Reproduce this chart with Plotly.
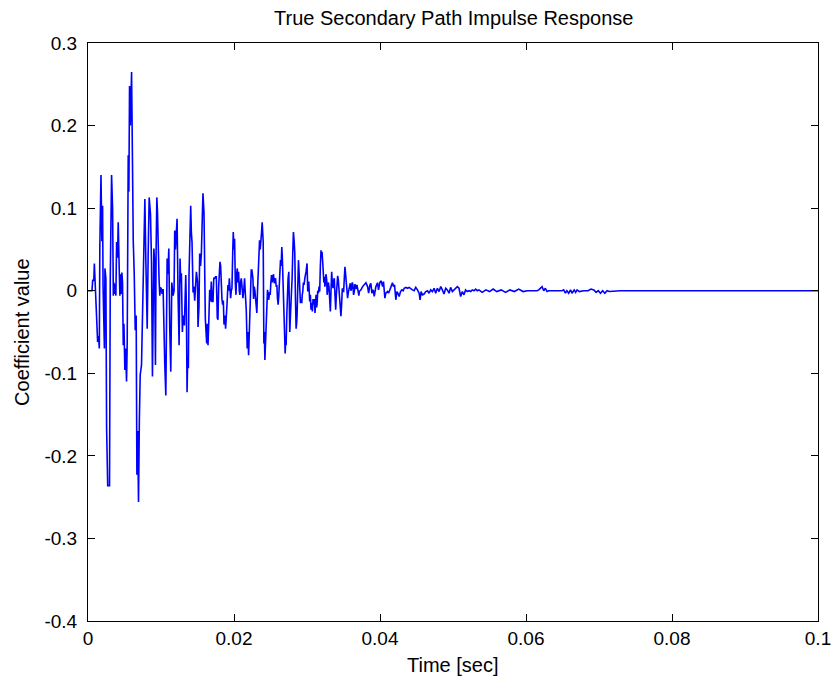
import plotly.graph_objects as go

# Impulse response of the secondary path: breakpoints of the trace
# (time in milliseconds, coefficient value).
time_ms = [
    0.00, 0.55, 0.64, 0.80, 0.87, 0.98, 1.09, 1.32, 1.45, 1.55, 1.62, 1.78, 1.90, 2.00,
    2.06, 2.15, 2.25, 2.32, 2.45, 2.55, 2.70, 2.95, 3.05, 3.23, 3.37, 3.47, 3.55, 3.64,
    3.73, 3.82, 3.92, 4.05, 4.14, 4.28, 4.37, 4.46, 4.55, 4.64, 4.73, 4.83, 4.92, 5.05,
    5.15, 5.28, 5.37, 5.51, 5.60, 5.69, 5.80, 5.97, 6.10, 6.20, 6.33, 6.47, 6.60, 6.70,
    6.80, 6.92, 7.03, 7.15, 7.33, 7.47, 7.65, 7.79, 7.92, 8.02, 8.11, 8.24, 8.38, 8.56,
    8.70, 8.83, 9.02, 9.12, 9.24, 9.33, 9.43, 9.52, 9.61, 9.74, 9.84, 9.93, 10.06, 10.15,
    10.29, 10.40, 10.52, 10.66, 10.75, 10.84, 10.95, 11.07, 11.20, 11.34, 11.48, 11.57,
    11.66, 11.79, 11.88, 11.98, 12.10, 12.20, 12.34, 12.48, 12.61, 12.70, 12.79, 12.93,
    13.02, 13.12, 13.21, 13.30, 13.39, 13.48, 13.57, 13.66, 13.75, 13.84, 13.93, 14.07,
    14.16, 14.25, 14.39, 14.50, 14.62, 14.75, 14.85, 15.00, 15.07, 15.20, 15.30, 15.42,
    15.53, 15.66, 15.75, 15.89, 15.98, 16.07, 16.17, 16.26, 16.35, 16.44, 16.55, 16.67,
    16.78, 16.89, 17.00, 17.12, 17.23, 17.35, 17.47, 17.58, 17.71, 17.80, 17.90, 18.08,
    18.17, 18.26, 18.35, 18.44, 18.54, 18.63, 18.75, 18.85, 18.95, 19.04, 19.17, 19.27,
    19.36, 19.45, 19.54, 19.63, 19.72, 19.81, 19.90, 20.00, 20.08, 20.18, 20.27, 20.36,
    20.45, 20.54, 20.63, 20.72, 20.81, 20.90, 21.00, 21.10, 21.22, 21.33, 21.45, 21.56,
    21.68, 21.81, 21.90, 22.00, 22.13, 22.20, 22.27, 22.36, 22.45, 22.59, 22.68, 22.77,
    22.86, 22.95, 23.04, 23.13, 23.22, 23.32, 23.41, 23.50, 23.59, 23.68, 23.77, 23.86,
    23.93, 24.00, 24.09, 24.16, 24.23, 24.32, 24.41, 24.50, 24.59, 24.68, 24.77, 24.86,
    24.96, 25.05, 25.14, 25.23, 25.32, 25.41, 25.51, 25.60, 25.69, 25.78, 25.87, 25.96,
    26.05, 26.14, 26.23, 26.30, 26.37, 26.46, 26.55, 26.62, 26.69, 26.76, 26.83, 26.92,
    27.01, 27.08, 27.14, 27.23, 27.32, 27.41, 27.51, 27.58, 27.64, 27.73, 27.82, 27.89,
    27.96, 28.05, 28.14, 28.24, 28.33, 28.42, 28.51, 28.58, 28.64, 28.73, 28.83, 28.90,
    28.96, 29.03, 29.10, 29.19, 29.28, 29.35, 29.42, 29.51, 29.60, 29.70, 29.78, 29.87,
    30.01, 30.10, 30.17, 30.24, 30.30, 30.37, 30.46, 30.55, 30.65, 30.74, 30.83, 30.92,
    31.01, 31.10, 31.17, 31.24, 31.31, 31.38, 31.47, 31.56, 31.65, 31.74, 31.83, 31.92,
    31.99, 32.06, 32.15, 32.24, 32.31, 32.38, 32.45, 32.51, 32.60, 32.70, 32.76, 32.83,
    32.92, 33.01, 33.10, 33.20, 33.29, 33.38, 33.47, 33.56, 33.65, 33.74, 33.83, 33.93,
    34.02, 34.11, 34.20, 34.29, 34.38, 34.47, 34.56, 34.65, 34.75, 34.84, 34.93, 35.02,
    35.11, 35.20, 35.29, 35.38, 35.47, 35.56, 35.66, 35.75, 35.84, 35.93, 36.02, 36.11,
    36.20, 36.29, 36.38, 36.48, 36.57, 36.66, 36.75, 36.84, 36.93, 37.02, 37.11, 37.16,
    37.39, 37.62, 37.84, 38.07, 38.30, 38.44, 38.62, 38.75, 38.89, 39.07, 39.21, 39.44,
    39.66, 39.80, 39.98, 40.17, 40.35, 40.48, 40.67, 40.80, 41.03, 41.17, 41.35, 41.53,
    41.71, 41.85, 41.99, 42.17, 42.31, 42.44, 42.62, 42.81, 42.99, 43.17, 43.31, 43.54,
    43.76, 43.99, 44.22, 44.45, 44.67, 44.90, 45.13, 45.36, 45.49, 45.63, 45.81, 46.04,
    46.27, 46.50, 46.72, 46.95, 47.18, 47.41, 47.63, 47.86, 48.09, 48.32, 48.54, 48.77,
    49.00, 49.23, 49.46, 49.68, 49.91, 50.14, 50.37, 50.59, 50.82, 51.05, 51.28, 51.50,
    51.73, 51.96, 52.19, 52.42, 52.64, 52.87, 53.10, 53.33, 53.55, 54.00, 54.50, 55.00,
    55.50, 56.00, 56.60, 57.20, 57.80, 58.40, 59.00, 59.60, 60.20, 61.52, 61.75, 62.00,
    62.20, 62.43, 62.65, 62.88, 63.10, 64.93, 65.16, 65.40, 65.60, 65.85, 66.10, 66.30,
    66.60, 66.80, 67.00, 67.30, 67.90, 68.50, 68.90, 69.30, 69.60, 69.90, 70.20, 70.50,
    70.80, 71.10, 71.40, 72.90, 73.00, 100.00,
]

coefficient = [
    0.000, 0.000, 0.0125, 0.0125, 0.033, 0.0125, -0.018, -0.062, -0.055, -0.070, 0.053, 0.140, 0.060, 0.103,
    0.007, -0.062, -0.070, 0.027, 0.015, -0.167, -0.236, -0.236, 0.015, 0.140, 0.099, -0.006, 0.010, -0.004,
    0.008, -0.006, 0.059, 0.040, 0.083, 0.025, -0.006, 0.020, -0.004, 0.022, 0.010, -0.066, -0.040, -0.096,
    -0.070, -0.110, -0.064, 0.164, 0.120, 0.248, 0.200, 0.265, 0.100, 0.060, 0.021, -0.048, -0.030, -0.223,
    -0.170, -0.256, -0.160, -0.102, -0.090, -0.024, 0.081, 0.111, 0.039, -0.044, -0.046, 0.043, 0.113, 0.093,
    0.035, -0.104, 0.051, 0.035, -0.090, 0.049, 0.113, 0.095, 0.040, 0.0125, -0.006, 0.004, 0.002, -0.004,
    0.002, -0.064, -0.090, -0.127, -0.060, 0.039, 0.020, 0.051, -0.046, -0.098, 0.010, -0.006,
    -0.006, 0.000, 0.073, 0.050, 0.070, 0.087, -0.006, -0.066, 0.039, 0.010, 0.021, -0.050,
    -0.030, -0.035, -0.042, -0.010, 0.019, -0.020, -0.123, -0.080, -0.094, 0.020, 0.067, 0.103,
    0.070, 0.059, -0.002, 0.005, -0.012, 0.008, 0.023, 0.011, -0.044, -0.020, 0.045, 0.030,
    0.045, 0.090, 0.118, 0.094, 0.020, -0.033, -0.050, -0.064, -0.040, -0.066, -0.037, 0.001,
    -0.013, 0.011, -0.013, -0.013, 0.015, 0.015, 0.017, 0.017, -0.033, -0.035, 0.005, 0.035,
    0.030, -0.001, -0.010, -0.017, -0.012, -0.041, -0.030, -0.046, -0.020, -0.017, 0.007, 0.000,
    0.015, -0.005, -0.009, 0.000, 0.003, 0.040, 0.071, 0.050, 0.063, 0.010, -0.005, 0.020,
    0.027, 0.010, 0.023, 0.000, -0.005, 0.010, 0.015, 0.005, -0.009, 0.000, 0.015, -0.005,
    -0.023, -0.070, -0.050, -0.078, -0.040, 0.001, 0.003, 0.025, 0.025, 0.015, -0.010, 0.005,
    0.000, -0.009, -0.015, -0.027, 0.000, 0.021, 0.040, 0.061, 0.050, 0.057, 0.070, 0.083,
    0.060, 0.059, -0.064, -0.050, -0.084, -0.060, -0.033, -0.010, 0.001, -0.005, -0.011, -0.002,
    -0.005, 0.010, 0.019, 0.010, 0.015, 0.020, 0.009, 0.015, 0.015, 0.005, 0.007, -0.010,
    -0.017, -0.005, 0.007, 0.020, 0.037, 0.030, 0.053, 0.040, 0.015, 0.000, -0.019, -0.050,
    -0.076, -0.060, -0.066, -0.030, 0.000, 0.015, 0.023, -0.010, -0.050, -0.030, -0.017, 0.005,
    0.015, 0.045, 0.071, 0.060, 0.045, -0.010, -0.046, -0.040, -0.030, 0.010, 0.037, 0.025,
    0.015, 0.000, -0.015, -0.010, -0.015, -0.005, -0.001, 0.010, 0.007, 0.015, 0.023, 0.023,
    0.033, -0.001, 0.008, 0.011, -0.005, -0.013, -0.005, -0.023, -0.015, -0.025, -0.010, -0.017,
    -0.010, -0.027, -0.015, -0.005, -0.020, -0.017, 0.000, -0.003, 0.005, -0.001, 0.030, 0.049,
    0.040, 0.047, 0.035, 0.021, 0.010, 0.017, 0.005, 0.009, 0.020, 0.013, -0.005, -0.001,
    0.010, 0.005, -0.015, -0.025, 0.000, 0.023, 0.010, 0.003, 0.012, 0.015, -0.005, -0.023,
    -0.005, 0.011, 0.018, 0.013, 0.000, -0.013, -0.025, -0.031, -0.015, 0.003, -0.001, -0.001,
    0.015, 0.029, 0.020, 0.013, 0.000, -0.009, -0.002, 0.003, 0.008, 0.009, 0.000, 0.003,
    0.010, 0.007, -0.005, -0.001, 0.008, 0.005, 0.002, 0.007, 0.000, -0.001, -0.006, -0.001,
    0.001, 0.005, 0.007, 0.0097, 0.005, -0.003, 0.007, 0.009, -0.003, 0.001, -0.007, 0.005,
    0.0097, 0.001, 0.0097, 0.012, 0.005, 0.011, -0.009, -0.003, -0.001, -0.003, 0.001, 0.005,
    0.0097, 0.005, 0.007, -0.011, -0.001, -0.003, -0.007, -0.001, 0.001, 0.000, 0.003, 0.004,
    0.003, 0.004, 0.002, 0.001, 0.000, 0.004, 0.001, -0.003, -0.011, -0.001, -0.005, -0.004,
    -0.001, 0.000, -0.003, 0.001, -0.001, 0.003, -0.003, 0.003, -0.001, 0.005, 0.001, -0.004,
    0.003, 0.001, -0.003, 0.004, -0.001, 0.001, 0.002, 0.005, 0.003, -0.007, -0.001, -0.005,
    0.001, -0.001, 0.000, -0.001, 0.001, 0.000, 0.002, 0.000, 0.001, -0.002, 0.001, -0.001,
    0.002, -0.001, 0.001, -0.002, 0.001, -0.001, 0.002, -0.001, 0.000, 0.000, 0.001, 0.003,
    0.005, 0.000, 0.003, -0.001, 0.000, 0.000, 0.001, -0.003, 0.000, -0.003, 0.001, -0.003,
    0.001, -0.002, 0.001, -0.001, 0.000, 0.000, 0.002, 0.001, -0.002, 0.000, -0.003, 0.000,
    -0.003, 0.000, -0.001, 0.000, 0.000, 0.000,
]

x_ticks = [0, 0.02, 0.04, 0.06, 0.08, 0.1]
x_tick_text = ["0", "0.02", "0.04", "0.06", "0.08", "0.1"]
y_ticks = [-0.4, -0.3, -0.2, -0.1, 0, 0.1, 0.2, 0.3]
y_tick_text = ["-0.4", "-0.3", "-0.2", "-0.1", "0", "0.1", "0.2", "0.3"]

time_sec = [t / 1000.0 for t in time_ms]

FONT = "Liberation Sans, Arial, Helvetica, sans-serif"

fig = go.Figure()
fig.add_trace(go.Scatter(
    x=time_sec,
    y=coefficient,
    mode="lines",
    line=dict(color="#0000ff", width=1.6),
    showlegend=False,
    hoverinfo="skip",
))

axis_common = dict(
    showline=True,
    linecolor="black",
    linewidth=1,
    mirror="allticks",
    ticks="inside",
    ticklen=7,
    tickcolor="black",
    tickwidth=1,
    showgrid=False,
    zeroline=False,
    automargin=False,
    ticklabeloverflow="allow",
    tickfont=dict(family=FONT, size=19, color="black"),
)

# a hair past 0.1 so the last x tick is kept
fig.update_xaxes(range=[0, 0.1000001], tickvals=x_ticks, ticktext=x_tick_text, **axis_common)
fig.update_yaxes(range=[-0.4, 0.3], tickvals=y_ticks, ticktext=y_tick_text,
                 ticklabelstandoff=6, **axis_common)

annotations = [
    dict(text="True Secondary Path Impulse Response", xref="paper", yref="paper",
         x=0.5, y=1.0433, xanchor="center", yanchor="middle", showarrow=False,
         font=dict(family=FONT, size=20, color="black")),
    dict(text="Time [sec]", xref="paper", yref="paper",
         x=0.5, y=-0.076, xanchor="center", yanchor="middle", showarrow=False,
         font=dict(family=FONT, size=20, color="black")),
    dict(text="Coefficient value", xref="paper", yref="paper",
         x=-0.0905, y=0.5, xanchor="center", yanchor="middle", showarrow=False,
         textangle=-90, font=dict(family=FONT, size=20, color="black")),
]

fig.update_layout(
    width=832,
    height=681,
    margin=dict(l=88, r=14, t=43, b=60),
    paper_bgcolor="white",
    plot_bgcolor="white",
    annotations=annotations,
)

fig.write_html("out.html")
